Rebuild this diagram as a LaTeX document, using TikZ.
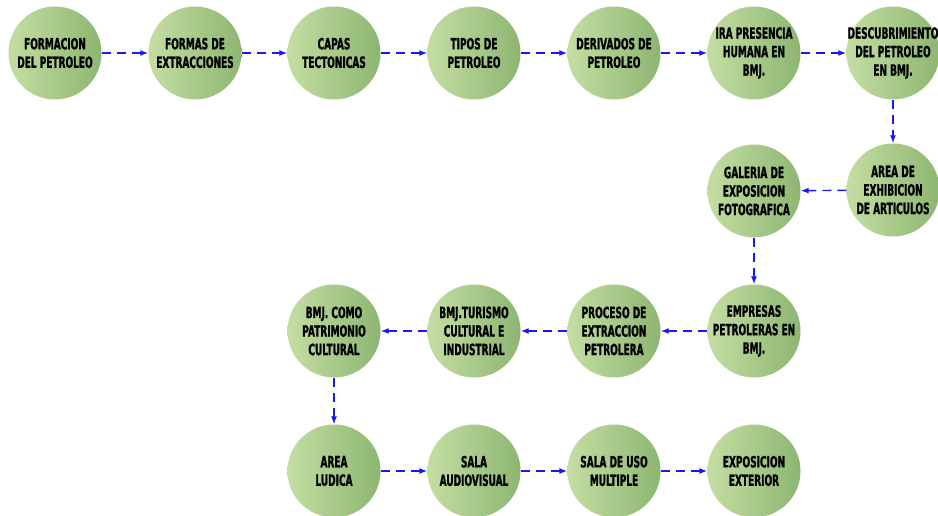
\documentclass[tikz,border=0pt]{standalone}
\usepackage{fontspec}
\newfontfamily\lblfont[FakeStretch=0.58,FakeBold=1.2]{DejaVu Sans}
\usetikzlibrary{arrows.meta}
\definecolor{gl}{HTML}{C4DEA2}
\definecolor{gd}{HTML}{8DB672}
\definecolor{arr}{HTML}{1A1AF0}
\tikzset{
  stage/.style={circle, minimum size=93pt, inner sep=-12pt, left color=gl, right color=gd, draw=none,
    align=center, font=\lblfont\bfseries\fontsize{15.5}{18.5}\selectfont, text=black},
  flow/.style={draw=arr, line width=1.4pt, dash pattern=on 9pt off 6pt, -{Latex[length=8pt,width=6pt]}}
}
\begin{document}
\begin{tikzpicture}[x=1pt,y=1pt]
\useasboundingbox (0,0) rectangle (938,516);
\node[stage] (a1) at (55,463) {FORMACION\\DEL PETROLEO};
\node[stage] (a2) at (195,463) {FORMAS DE\\EXTRACCIONES};
\node[stage] (a3) at (334,463) {CAPAS\\TECTONICAS};
\node[stage] (a4) at (474,463) {TIPOS DE\\PETROLEO};
\node[stage] (a5) at (614,463) {DERIVADOS DE\\PETROLEO};
\node[stage] (a6) at (754,463) {IRA PRESENCIA\\HUMANA EN\\BMJ.};
\node[stage] (a7) at (893,463) {DESCUBRIMIENTO\\DEL PETROLEO\\EN BMJ.};
\node[stage] (b1) at (893,326) {AREA DE\\EXHIBICION\\DE ARTICULOS};
\node[stage] (b2) at (754,325) {GALERIA DE\\EXPOSICION\\FOTOGRAFICA};
\node[stage] (c1) at (754,185) {EMPRESAS\\PETROLERAS EN\\BMJ.};
\node[stage] (c2) at (614,185) {PROCESO DE\\EXTRACCION\\PETROLERA};
\node[stage] (c3) at (474,185) {BMJ.TURISMO\\CULTURAL E\\INDUSTRIAL};
\node[stage] (c4) at (334,185) {BMJ. COMO\\PATRIMONIO\\CULTURAL};
\node[stage] (d1) at (334,45) {AREA\\LUDICA};
\node[stage] (d2) at (474,45) {SALA\\AUDIOVISUAL};
\node[stage] (d3) at (614,45) {SALA DE USO\\MULTIPLE};
\node[stage] (d4) at (754,45) {EXPOSICION\\EXTERIOR};
\draw[flow] (a1) -- (a2);
\draw[flow] (a2) -- (a3);
\draw[flow] (a3) -- (a4);
\draw[flow] (a4) -- (a5);
\draw[flow] (a5) -- (a6);
\draw[flow] (a6) -- (a7);
\draw[flow] (a7) -- (b1);
\draw[flow] (b1) -- (b2);
\draw[flow] (b2) -- (c1);
\draw[flow] (c1) -- (c2);
\draw[flow] (c2) -- (c3);
\draw[flow] (c3) -- (c4);
\draw[flow] (c4) -- (d1);
\draw[flow] (d1) -- (d2);
\draw[flow] (d2) -- (d3);
\draw[flow] (d3) -- (d4);
\end{tikzpicture}
\end{document}
